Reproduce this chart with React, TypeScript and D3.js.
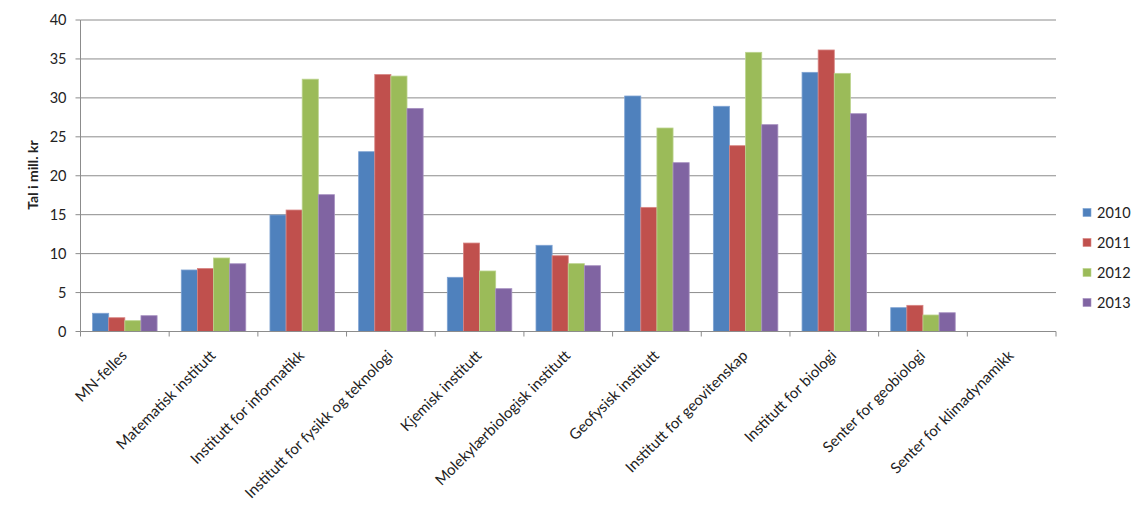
import React from "react";
import * as d3 from "d3";

const categories = [
  "MN-felles",
  "Matematisk institutt",
  "Institutt for informatikk",
  "Institutt for fysikk og teknologi",
  "Kjemisk institutt",
  "Molekylærbiologisk institutt",
  "Geofysisk institutt",
  "Institutt for geovitenskap",
  "Institutt for biologi",
  "Senter for geobiologi",
  "Senter for klimadynamikk",
];
const seriesNames = ["2010", "2011", "2012", "2013"];
const v2010 = [2.34, 7.9, 14.96, 23.09, 6.96, 11.07, 30.24, 28.92, 33.28, 3.06, 0];
const v2011 = [1.77, 8.1, 15.6, 33.0, 11.36, 9.73, 15.94, 23.86, 36.15, 3.36, 0];
const v2012 = [1.39, 9.44, 32.4, 32.8, 7.77, 8.71, 26.13, 35.85, 33.15, 2.12, 0];
const v2013 = [2.03, 8.7, 17.57, 28.65, 5.5, 8.45, 21.68, 26.56, 27.97, 2.41, 0];
const yTicks = [0, 5, 10, 15, 20, 25, 30, 35, 40];
const colors = ["#4F81BD", "#C0504D", "#9BBB59", "#8064A2"];
const strokes = ["#7FA3D3", "#D88583", "#BBD38D", "#A690C0"];

const allSeries = [v2010, v2011, v2012, v2013];

export default function App() {
  const W = 1148, H = 516;
  const left = 80.5, right = 1056, top = 20, bottom = 331.5;
  const font = "Lato, 'Open Sans', sans-serif";
  const x0 = d3.scaleBand<string>().domain(categories).range([left, right]).paddingInner(0).paddingOuter(0);
  const bw = x0.bandwidth();
  const groupW = bw * 4 / 5.5;
  const x1 = d3.scaleBand<string>().domain(seriesNames).range([0, groupW]).padding(0);
  const y = d3.scaleLinear().domain([0, 40]).range([bottom, top]);

  const tickXs = d3.range(categories.length + 1).map((i) => left + i * bw);

  return (
    <svg width={W} height={H} style={{ position: "absolute", left: 0, top: 0, background: "#fff" }}>
      {yTicks.map((t) => (
        <g key={t}>
          {t > 0 && (
            <line x1={left} x2={right} y1={y(t)} y2={y(t)} stroke="#8C8C8C" strokeWidth={1} />
          )}
          <line x1={left - 5} x2={left} y1={y(t)} y2={y(t)} stroke="#8C8C8C" />
          <text x={66.5} y={y(t)} dy="0.36em" textAnchor="end" fontFamily={font} fontSize={14.5} fill="#222">
            {t}
          </text>
        </g>
      ))}
      <line x1={left} x2={left} y1={top} y2={bottom} stroke="#8C8C8C" />
      {categories.map((c, i) => (
        <g key={c} transform={`translate(${(x0(c) as number) + (bw - groupW) / 2},0)`}>
          {allSeries.map((s, k) =>
            s[i] > 0 ? (
              <rect
                key={k}
                x={x1(seriesNames[k]) as number}
                y={y(s[i])}
                width={x1.bandwidth()}
                height={bottom - y(s[i])}
                fill={colors[k]}
                stroke={strokes[k]}
                strokeWidth={0.8}
              />
            ) : null
          )}
        </g>
      ))}
      <line x1={left} x2={right} y1={bottom} y2={bottom} stroke="#8C8C8C" />
      {tickXs.map((tx, i) => (
        <line key={i} x1={tx} x2={tx} y1={bottom} y2={bottom + 5} stroke="#8C8C8C" />
      ))}
      {categories.map((c) => {
        const cx = (x0(c) as number) + bw / 2;
        return (
          <text
            key={c}
            transform={`translate(${cx + 3},${bottom + 25}) rotate(-45)`}
            textAnchor="end"
            fontFamily={font}
            fontSize={15}
            fill="#222"
          >
            {c}
          </text>
        );
      })}
      <text
        transform={`translate(38,175) rotate(-90)`}
        textAnchor="middle"
        fontFamily={font}
        fontSize={14}
        fontWeight="bold"
        fill="#222"
      >
        Tal i mill. kr
      </text>
      {seriesNames.map((n, k) => (
        <g key={n} transform={`translate(1083,${212.5 + k * 30})`}>
          <rect x={0} y={-4} width={8} height={8} fill={colors[k]} stroke={strokes[k]} strokeWidth={0.6} />
          <text x={14} y={0} dy="0.36em" fontFamily={font} fontSize={14.5} fill="#222">
            {n}
          </text>
        </g>
      ))}
    </svg>
  );
}
